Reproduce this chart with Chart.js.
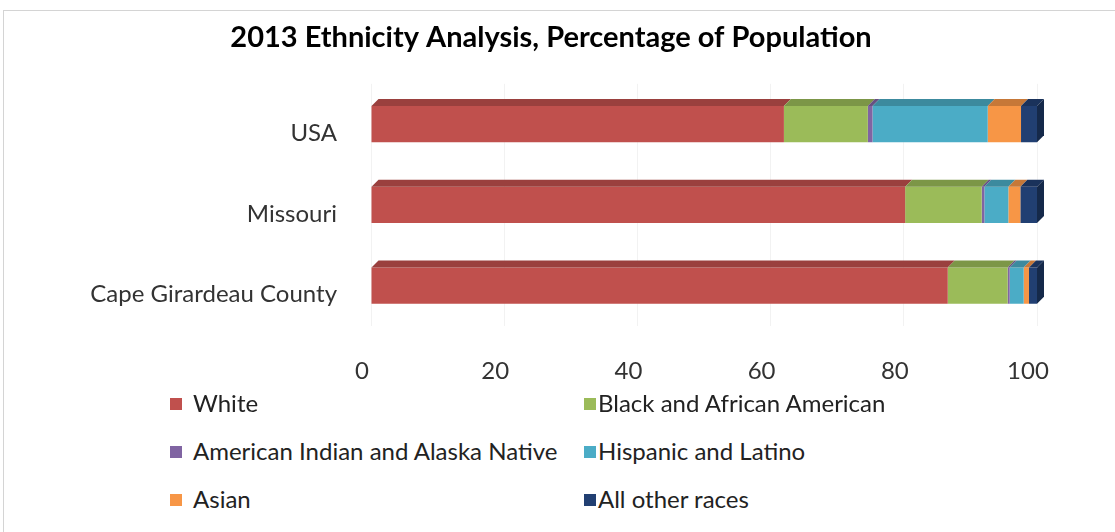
<!DOCTYPE html>
<html>
<head>
<meta charset="utf-8">
<script src="https://cdn.jsdelivr.net/npm/chart.js@4"></script>
<style>
  body { margin: 0; width: 1115px; height: 532px; overflow: hidden; background: #fff; font-family: Lato, "Open Sans", sans-serif; }
  #frame { position: absolute; left: 3px; top: 10px; width: 1140px; height: 540px; border: 1px solid #d4d4d4; }
  #wrap { position: absolute; left: 0; top: 0; width: 1115px; height: 392px; }
  .swatch { position: absolute; width: 12px; height: 12px; }
  .name { position: absolute; font-size: 24px; color: #222; line-height: 28px; white-space: nowrap; }
</style>
</head>
<body>
<div id="frame"></div>
<div id="wrap"><canvas id="myChart"></canvas></div>
<div id="legend"></div>
<script>
const places = ["USA", "Missouri", "Cape Girardeau County"];
const seriesNames = ["White", "Black and African American", "American Indian and Alaska Native",
                     "Hispanic and Latino", "Asian", "All other races"];
const seriesColors = ["#c0504d", "#9bbb59", "#8064a2", "#4bacc6", "#f79646", "#213f72"];

const white    = [62.0, 80.2, 86.6];
const black    = [12.6, 11.5, 9.0];
const nativeAm = [0.7, 0.4, 0.3];
const hispanic = [17.3, 3.6, 2.1];
const asian    = [5.0, 1.8, 0.8];
const other    = [2.4, 2.5, 1.2];

const xTicks = [0, 20, 40, 60, 80, 100];

const seriesValues = [white, black, nativeAm, hispanic, asian, other];

function shade(hex, f) {
  const n = parseInt(hex.slice(1), 16);
  const c = [(n >> 16) & 255, (n >> 8) & 255, n & 255].map(v => Math.round(v * f));
  return "rgb(" + c.join(",") + ")";
}

// fake excel-style 3d: slanted top face on each segment, end cap on the last one
const depth3d = {
  id: "depth3d",
  afterDatasetsDraw(chart) {
    const ctx = chart.ctx;
    const d = 7;
    ctx.save();
    chart.data.datasets.forEach((ds, i) => {
      chart.getDatasetMeta(i).data.forEach(bar => {
        const p = bar.getProps(["x", "y", "base", "height"], true);
        const top = p.y - p.height / 2, bottom = p.y + p.height / 2;
        const left = Math.min(p.base, p.x), right = Math.max(p.base, p.x);
        if (right - left < 0.1) return;
        ctx.fillStyle = shade(ds.backgroundColor, 0.8);
        ctx.beginPath();
        ctx.moveTo(left, top);
        ctx.lineTo(left + d, top - d);
        ctx.lineTo(right + d, top - d);
        ctx.lineTo(right, top);
        ctx.closePath();
        ctx.fill();
        if (i === chart.data.datasets.length - 1) {
          ctx.fillStyle = shade(ds.backgroundColor, 0.65);
          ctx.beginPath();
          ctx.moveTo(right, top);
          ctx.lineTo(right + d, top - d);
          ctx.lineTo(right + d, bottom - d);
          ctx.lineTo(right, bottom);
          ctx.closePath();
          ctx.fill();
        }
      });
    });
    ctx.restore();
  }
};

new Chart("myChart", {
  type: "bar",
  data: {
    labels: places,
    datasets: seriesNames.map((name, i) => ({
      label: name,
      data: seriesValues[i],
      backgroundColor: seriesColors[i],
      barPercentage: 0.45,
      categoryPercentage: 1
    }))
  },
  options: {
    indexAxis: "y",
    responsive: true,
    maintainAspectRatio: false,
    animation: false,
    layout: { padding: { left: 65, right: 78, top: 0, bottom: 0 } },
    plugins: {
      legend: { display: false },
      tooltip: { enabled: false },
      title: {
        display: true,
        text: "2013 Ethnicity Analysis, Percentage of Population",
        color: "#000",
        font: { family: "Lato", size: 29, weight: "bold", lineHeight: 1.2 },
        padding: { top: 20, bottom: 29 }
      }
    },
    scales: {
      x: {
        stacked: true,
        min: 0,
        max: 100,
        afterBuildTicks: s => { s.ticks = xTicks.map(v => ({ value: v })); },
        afterFit: s => { s.height = 66; },
        border: { display: false },
        grid: { color: "rgba(0,0,0,0.05)", drawTicks: false },
        ticks: { color: "#333", font: { family: "Lato", size: 24 }, padding: 31, labelOffset: -9 }
      },
      y: {
        stacked: true,
        afterFit: s => { s.width = 306; },
        border: { display: false },
        grid: { display: false, drawTicks: false },
        ticks: { color: "#333", font: { family: "Lato", size: 24 }, padding: 34, labelOffset: 9 }
      }
    }
  },
  plugins: [depth3d]
});

// two-column legend under the plot
const swatchX = [170, 584], textX = [193, 598];
const rowY = [404, 452, 500];
const legend = document.getElementById("legend");
seriesNames.forEach((name, i) => {
  const col = i % 2, row = Math.floor(i / 2);
  const sw = document.createElement("div");
  sw.className = "swatch";
  sw.style.left = swatchX[col] + "px";
  sw.style.top = (rowY[row] - 6) + "px";
  sw.style.background = seriesColors[i];
  const tx = document.createElement("div");
  tx.className = "name";
  tx.style.left = textX[col] + "px";
  tx.style.top = (rowY[row] - 15) + "px";
  tx.textContent = name;
  legend.appendChild(sw);
  legend.appendChild(tx);
});
</script>
</body>
</html>
